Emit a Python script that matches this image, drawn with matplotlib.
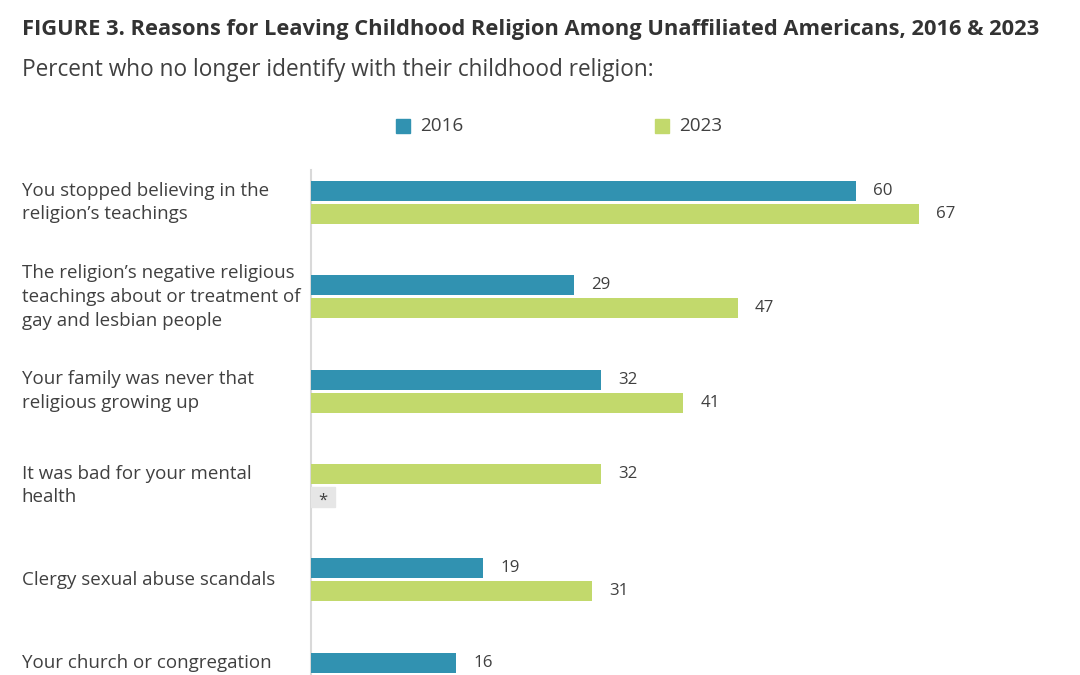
import matplotlib
matplotlib.use("Agg")
import matplotlib.pyplot as plt
from matplotlib.patches import Rectangle

categories = [
    "You stopped believing in the\nreligion\u2019s teachings",
    "The religion\u2019s negative religious\nteachings about or treatment of\ngay and lesbian people",
    "Your family was never that\nreligious growing up",
    "It was bad for your mental\nhealth",
    "Clergy sexual abuse scandals",
    "Your church or congregation",
]
values_2016 = [60, 29, 32, None, 19, 16]
values_2023 = [67, 47, 41, 32, 31, None]
series_names = ["2016", "2023"]
title = "FIGURE 3. Reasons for Leaving Childhood Religion Among Unaffiliated Americans, 2016 & 2023"
subtitle = "Percent who no longer identify with their childhood religion:"

C16 = "#3192B1"
C23 = "#C2D96C"
TXT = "#404040"

plt.rcParams['font.family'] = ['Open Sans', 'DejaVu Sans']

W, H = 1080, 675
fig = plt.figure(figsize=(W / 100, H / 100), dpi=100)
fig.patch.set_facecolor("white")

left_px, top_px, right_px, bottom_px = 311, 170, 1037, 675
ax = fig.add_axes([left_px / W, 1 - bottom_px / H, (right_px - left_px) / W, (bottom_px - top_px) / H])
ax.set_xlim(0, 80)
ax.set_ylim(5.01, -0.345)
ax.axis("off")
ax.plot([0, 0], [5.01, -0.345], color="#d9d9d9", lw=1.5, clip_on=False, zorder=1)

off = 0.122
bh = 0.212
for i, (v16, v23) in enumerate(zip(values_2016, values_2023)):
    present = [(v, c) for v, c in [(v16, C16), (v23, C23)] if v is not None]
    slots = [i - off, i + off]
    for (v, c), y in zip(present, slots):
        ax.barh(y, v, height=bh, color=c, zorder=2)
        ax.text(v + 1.9, y, str(v), va="center", ha="left", fontsize=12.2, color=TXT)
    label_y = i
    if len(present) == 1:
        if v16 is None:
            y = slots[1]
            ax.add_patch(Rectangle((0, y - 0.11), 2.6, 0.22, color="#e6e6e6", zorder=2))
            ax.text(1.3, y + 0.04, "*", ha="center", va="center", fontsize=12, color=TXT, zorder=3)
        else:
            label_y = slots[0]
    ax.text(-31.9, label_y, categories[i], ha="left", va="center", fontsize=13.5, color=TXT,
            linespacing=1.42)

fig.text(22 / W, 1 - 30 / H, title, ha="left", va="center", fontsize=15.75, fontweight="bold",
         color="#333333")
fig.text(22 / W, 1 - 70 / H, subtitle, ha="left", va="center", fontsize=16.25, color="#404040")

for name, col, x in zip(series_names, [C16, C23], [396, 655]):
    fig.patches.append(Rectangle((x / W, 1 - 133 / H), 14 / W, 14 / H, color=col,
                                 transform=fig.transFigure, figure=fig))
    fig.text((x + 24) / W, 1 - 126 / H, name, ha="left", va="center", fontsize=13.6, color=TXT)

fig.savefig("out.png", dpi=100)
